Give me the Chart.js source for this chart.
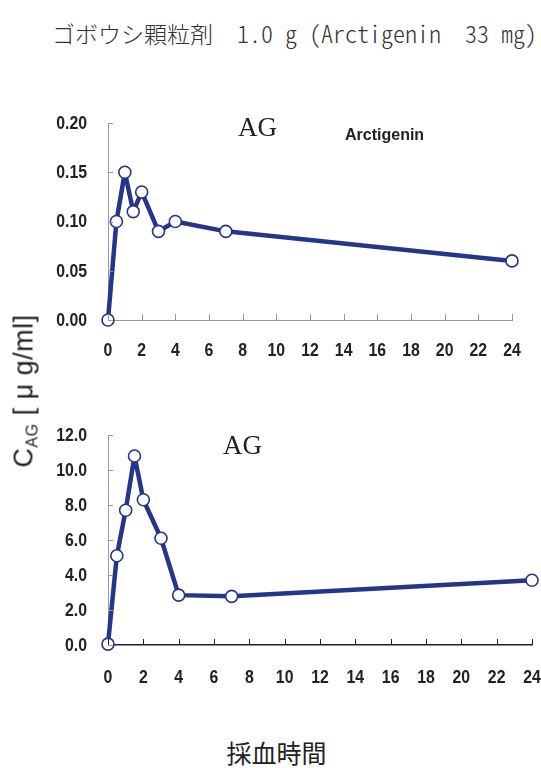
<!DOCTYPE html>
<html>
<head>
<meta charset="utf-8">
<script src="https://cdn.jsdelivr.net/npm/chart.js@4"></script>
<style>
  body { margin: 0; background: #fff; width: 541px; height: 768px; position: relative; overflow: hidden; }
  .box { position: absolute; }
  #title { left: 52px; top: 15px; color: #333; white-space: pre; font-family: "Noto Sans CJK JP", sans-serif; font-weight: 300; }
  #title .jp { font-size: 23px; }
  #title .en { font-size: 24px; font-feature-settings: "hwid" 1; }
  .ag { font: 27px "Liberation Serif", serif; color: #222; }
  #arc { font: bold 16px "Liberation Sans", sans-serif; color: #222; }
  #ylab { left: 25px; top: 391px; transform: translate(-50%, -50%) rotate(-90deg); font: 27px "Liberation Sans", sans-serif; letter-spacing: 0.5px; color: #222; white-space: pre; }
  #ylab sub { font-size: 16px; vertical-align: -5px; }
  #xlab { left: 0; width: 541px; top: 734px; text-align: center; padding-left: 12px; box-sizing: border-box; font: 25px serif, "Noto Sans CJK JP"; color: #222; }
</style>
</head>
<body>
<div id="title" class="box"><span class="jp">ゴボウシ顆粒剤</span><span class="en">  1.0 g (Arctigenin  33 mg)</span></div>
<div class="box" style="left:0;top:100px;width:541px;height:280px"><canvas id="c1"></canvas></div>
<div class="box" style="left:0;top:400px;width:541px;height:300px"><canvas id="c2"></canvas></div>
<div class="box ag" style="left:238px;top:112px">AG</div>
<div id="arc" class="box" style="left:345px;top:126px">Arctigenin</div>
<div class="box ag" style="left:223px;top:430px">AG</div>
<div id="ylab" class="box">C<sub>AG</sub> [ μ g/ml]</div>
<div id="xlab" class="box">採血時間</div>
<script>
// 採血時間 (h) と血中濃度
const times = [0, 0.5, 1, 1.5, 2, 3, 4, 7, 24];
const agTop = [0, 0.10, 0.15, 0.11, 0.13, 0.09, 0.10, 0.09, 0.06];
const agBottom = [0.05, 5.1, 7.7, 10.8, 8.3, 6.1, 2.85, 2.78, 3.7];
const xTicks = [0, 2, 4, 6, 8, 10, 12, 14, 16, 18, 20, 22, 24];
const topYTicks = [0, 0.05, 0.10, 0.15, 0.20];
const bottomYTicks = [0, 2, 4, 6, 8, 10, 12];

const NAVY = '#24358a';

// 内向きの目盛り線と、細めに詰めた目盛りラベル
const axisDeco = {
  id: 'axisDeco',
  afterDraw(chart, args, opts) {
    const { ctx, chartArea: a, scales: { x, y } } = chart;
    ctx.save();
    ctx.lineWidth = 1;
    ctx.strokeStyle = opts.xColor;
    x.ticks.forEach(t => {
      const px = Math.round(x.getPixelForValue(t.value)) + 0.5;
      ctx.beginPath(); ctx.moveTo(px, a.bottom); ctx.lineTo(px, a.bottom - 6); ctx.stroke();
    });
    ctx.strokeStyle = '#999';
    y.ticks.forEach(t => {
      const py = Math.round(y.getPixelForValue(t.value)) + 0.5;
      ctx.beginPath(); ctx.moveTo(a.left, py); ctx.lineTo(a.left + 5, py); ctx.stroke();
    });
    ctx.font = 'bold 18px "Liberation Sans", sans-serif';
    ctx.fillStyle = '#222';
    ctx.textBaseline = 'middle';
    const put = (txt, px, py) => {
      ctx.save(); ctx.translate(px, py); ctx.scale(0.88, 1); ctx.fillText(txt, 0, 0); ctx.restore();
    };
    ctx.textAlign = 'center';
    x.ticks.forEach(t => put(String(t.value), x.getPixelForValue(t.value), a.bottom + opts.xOff));
    ctx.textAlign = 'right';
    y.ticks.forEach(t => put(t.value.toFixed(opts.digits), a.left - 21, y.getPixelForValue(t.value) + 1));
    ctx.restore();
  },
};

function make(id, data, yTicks, yMax, digits, cfg) {
  new Chart(document.getElementById(id), {
    type: 'line',
    data: {
      datasets: [{
        data: times.map((t, i) => ({ x: t, y: data[i] })),
        borderColor: NAVY, borderWidth: 4.5, tension: 0, borderJoinStyle: 'round',
        pointRadius: 6, pointBorderWidth: 1.6, pointBackgroundColor: '#fff', pointBorderColor: NAVY,
        clip: false,
      }],
    },
    options: {
      responsive: true, maintainAspectRatio: false, animation: false,
      layout: { padding: cfg.padding },
      plugins: { legend: { display: false }, tooltip: { enabled: false }, axisDeco: { xColor: cfg.xColor, xOff: cfg.xOff, digits } },
      scales: {
        x: {
          type: 'linear', min: 0, max: 24,
          afterBuildTicks: s => { s.ticks = xTicks.map(v => ({ value: v })); },
          afterFit: s => { s.height = cfg.xHeight; },
          ticks: { display: false },
          grid: { display: false },
          border: { color: cfg.xColor, width: cfg.xWidth },
        },
        y: {
          min: 0, max: yMax,
          afterBuildTicks: s => { s.ticks = yTicks.map(v => ({ value: v })); },
          afterFit: s => { s.width = 108; },
          ticks: { display: false },
          grid: { display: false },
          border: { color: '#999', width: 1 },
        },
      },
    },
    plugins: [axisDeco],
  });
}

make('c1', agTop, topYTicks, 0.20, 2, { padding: { top: 23, right: 29, bottom: 0, left: 0 }, xHeight: 60, xOff: 31, xColor: '#999', xWidth: 1 });
make('c2', agBottom, bottomYTicks, 12, 1, { padding: { top: 35, right: 9, bottom: 0, left: 0 }, xHeight: 55, xOff: 33, xColor: '#222', xWidth: 1.5 });
</script>
</body>
</html>
